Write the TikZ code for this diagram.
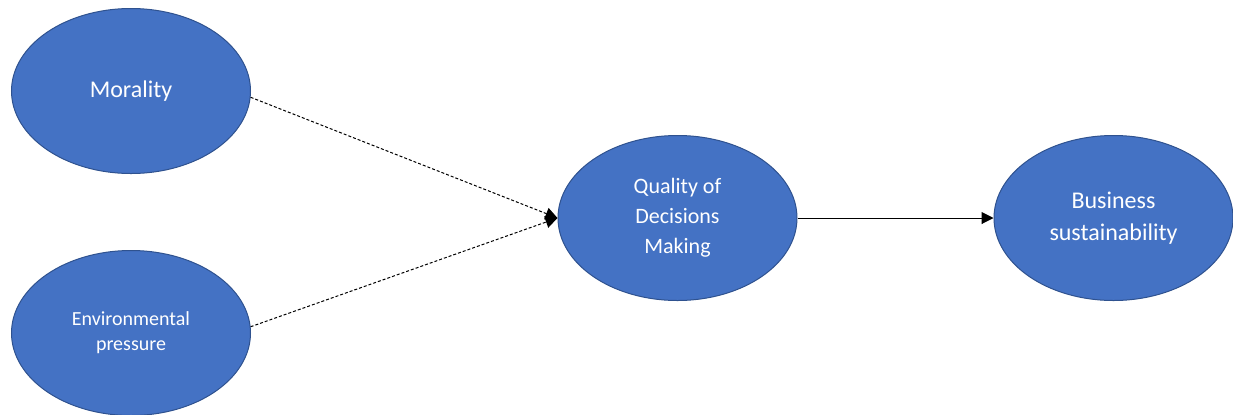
\documentclass[tikz,border=0pt]{standalone}
\usepackage{fontspec}
\setmainfont{Carlito}
\usetikzlibrary{shapes.geometric,arrows.meta,positioning}
\definecolor{nodeblue}{HTML}{4472C4}
\definecolor{nodeedge}{HTML}{2F528F}

\begin{document}
\begin{tikzpicture}[
                    x=0.5pt, y=-0.5pt,
                    node distance=218pt,
                    every node/.style={
                        ellipse,
                        draw=nodeedge,
                        fill=nodeblue,
                        text=white,
                        line width=0.5pt,
                        minimum width=119.5pt,
                        minimum height=82.5pt,
                        inner sep=0pt,
                        align=center,
                        font=\fontsize{12}{16}\selectfont
                    },
                    link/.style={
                        line width=0.5pt,
                        -{Triangle[length=6pt,width=6pt]}
                    },
                    dashlink/.style={
                        link,
                        dash pattern=on 1.5pt off 1pt
                    }
                ]
                    \useasboundingbox (0,0) rectangle (1233,414);

                    \node (m) at (131,91) {Morality};
                    \node[font=\fontsize{10}{12.5}\selectfont] (e) at (131,333) {Environmental\\pressure};
                    \node[font=\fontsize{11}{15}\selectfont] (q) at (677.5,218) {Quality of\\Decisions\\Making};
                    \node (b) [right of=q] {Business\\sustainability};

                    % Edges
                    \draw[dashlink] (m.-3) -- (q.west);
                    \draw[dashlink] (e.3) -- (q.west);
                    \draw[link] (q) -- (b);
                \end{tikzpicture}
\end{document}
